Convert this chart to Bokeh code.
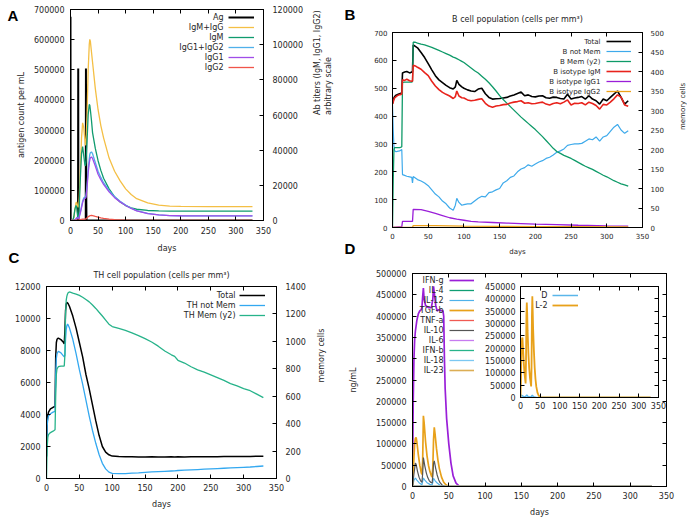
import math
from bokeh.plotting import figure
from bokeh.models import (Range1d, LinearAxis, FixedTicker, NumeralTickFormatter,
                          Legend, LegendItem, Label, Title, Div)
from bokeh.layouts import row, column
from bokeh.embed import file_html
from bokeh.resources import INLINE

FONT = "DejaVu Sans"
TXT = "#262626"

# ---------------- data ----------------
day_ticks = [0, 50, 100, 150, 200, 250, 300, 350]

# Panel A
a_left_ticks = [0, 100000, 200000, 300000, 400000, 500000, 600000, 700000]
a_right_ticks = [0, 20000, 40000, 60000, 80000, 100000, 120000]
ag_days = [0, 0.33, 13.67, 14, 14.33, 27.67, 28, 28.33, 28.67, 29, 330]
ag_count = [676000, 0, 0, 504000, 0, 0, 504000, 250000, 60000, 0, 0]
ab_days = [0, 4, 6, 8, 10, 11, 12, 13, 14, 15,
           16, 18, 20, 22, 24, 26, 27, 28, 30, 32,
           34, 35, 36, 38, 40, 45, 50, 55, 60, 70,
           80, 90, 100, 110, 120, 140, 160, 180, 200, 250,
           300, 330]
igm_igg = [0, 0, 1500, 6000, 10000, 10500, 9500, 8000, 7500, 9000,
           14000, 30000, 47000, 55500, 53000, 46000, 43000, 43000, 60000, 85000,
           100000, 103000, 102000, 96000, 90000, 75000, 63000, 54000, 47000, 35500,
           28000, 22500, 18000, 14800, 12400, 10000, 8800, 8200, 8000, 7900,
           7900, 7900]
igm = [0, 0, 2000, 6500, 8500, 8000, 5000, 2500, 1500, 3000,
       9000, 25000, 38000, 42000, 37000, 32000, 31000, 33000, 45000, 60000,
       66000, 65500, 63000, 57000, 50000, 41000, 34000, 28500, 24000, 18000,
       13500, 10500, 8500, 7200, 6400, 5700, 5450, 5350, 5300, 5300,
       5300, 5300]
igg1_igg2 = [0, 0, 0, 200, 1000, 1500, 1800, 1500, 1200, 1500,
             2500, 5000, 8000, 11000, 12800, 13300, 13500, 14000, 20000, 29000,
             35000, 37500, 38500, 39000, 38000, 33000, 28000, 24500, 21500, 17000,
             13500, 11000, 8800, 7000, 5600, 4000, 3200, 2800, 2700, 2600,
             2600, 2600]
igg1 = [0, 0, 0, 150, 800, 1300, 1600, 1300, 1000, 1300,
        2200, 4500, 7300, 10200, 12000, 12500, 12700, 13000, 18500, 27000,
        32500, 34500, 35700, 36100, 35300, 31000, 26300, 23200, 20500, 16300,
        13000, 10600, 8550, 6850, 5500, 3950, 3180, 2790, 2690, 2600,
        2600, 2600]
igg2 = [0, 0, 0, 0, 100, 150, 200, 200, 200, 250,
        300, 500, 700, 800, 800, 800, 800, 900, 1500, 2100,
        2500, 2700, 2800, 2900, 2750, 2300, 1900, 1500, 1200, 800,
        500, 300, 200, 100, 50, 0, 0, 0, 0, 0,
        0, 0]

# Panel B
b_left_ticks = [0, 100, 200, 300, 400, 500, 600, 700]
b_right_ticks = [0, 50, 100, 150, 200, 250, 300, 350, 400, 450, 500]
b_days = [0, 1, 2, 3, 5, 8, 10, 12, 13, 14,
          17, 20, 24, 27, 28, 29, 32, 35, 40, 45,
          50, 55, 60, 65, 70, 75, 80, 85, 88, 90,
          93, 97, 100, 105, 110, 115, 120, 125, 130, 135,
          140, 145, 150, 155, 160, 165, 170, 175, 180, 185,
          190, 195, 200, 205, 210, 215, 220, 225, 230, 235,
          240, 245, 250, 255, 260, 265, 270, 275, 280, 285,
          290, 295, 300, 305, 310, 315, 320, 325, 330]
b_total = [445, 455, 465, 470, 475, 478, 480, 482, 485, 555,
           558, 560, 555, 558, 560, 655, 650, 645, 628, 610,
           588, 566, 545, 530, 520, 510, 502, 497, 505, 528,
           514, 505, 500, 494, 490, 488, 497, 500, 480, 467,
           461, 462, 463, 465, 467, 472, 476, 481, 486, 473,
           476, 470, 469, 472, 473, 466, 464, 468, 467, 463,
           461, 478, 461, 465, 467, 470, 461, 473, 461, 455,
           443, 461, 455, 467, 479, 490, 467, 443, 455]
b_not_mem = [440, 350, 290, 275, 272, 274, 275, 278, 280, 190,
             187, 184, 182, 180, 160, 183, 178, 172, 167, 160,
             150, 135, 120, 110, 95, 85, 70, 62, 80, 105,
             90, 80, 82, 85, 85, 95, 105, 112, 110, 125,
             128, 135, 140, 160, 168, 180, 185, 200, 210, 215,
             225, 220, 228, 235, 240, 248, 252, 260, 270, 275,
             282, 295, 298, 300, 300, 302, 310, 318, 315, 325,
             310, 325, 330, 345, 360, 370, 350, 338, 347]
b_mem = [0, 120, 200, 205, 205, 205, 205, 206, 207, 372,
         373, 373, 373, 373, 374, 475, 475, 473, 470, 468,
         465, 462, 458, 454, 450, 446, 442, 437, 435, 433,
         430, 426, 423, 416, 409, 402, 396, 388, 380, 371,
         361, 350, 338, 328, 319, 310, 301, 292, 283, 275,
         267, 259, 251, 242, 233, 223, 213, 203, 195, 190,
         185, 181, 177, 172, 167, 162, 157, 153, 149, 144,
         139, 134, 130, 125, 120, 116, 112, 109, 106]
b_iso_igm = [443, 450, 460, 465, 470, 475, 477, 478, 480, 530,
             528, 532, 527, 525, 526, 582, 580, 575, 568, 556,
             545, 525, 508, 495, 485, 478, 472, 463, 470, 490,
             472, 466, 465, 458, 455, 457, 460, 462, 446, 436,
             432, 436, 438, 441, 442, 447, 450, 452, 455, 446,
             448, 444, 445, 448, 450, 443, 440, 445, 448, 444,
             450, 458, 440, 446, 445, 448, 440, 450, 445, 438,
             425, 442, 440, 450, 462, 476, 468, 440, 435]
b_igg1_days = [0, 13, 14, 28, 29, 40, 50, 60, 70, 80, 90, 100, 110, 120,
               140, 160, 180, 200, 230, 260, 300, 330]
b_iso_igg1 = [0, 3, 22, 22, 65, 64, 58, 51, 43, 35, 30, 26, 22, 20,
              18, 16, 14, 12, 10, 8, 6, 5]
b_igg2_days = [0, 28, 29, 60, 100, 150, 200, 250, 330]
b_iso_igg2 = [0, 0, 7, 7, 5, 4, 3, 3, 2]

# Panel C
c_left_ticks = [0, 2000, 4000, 6000, 8000, 10000, 12000]
c_right_ticks = [0, 200, 400, 600, 800, 1000, 1200, 1400]
c_days = [0, 1, 2, 3, 6, 10, 13, 14, 15, 16,
          18, 22, 25, 27, 28, 29, 30, 31, 32, 33,
          35, 40, 45, 50, 55, 60, 65, 70, 75, 80,
          85, 90, 95, 100, 110, 120, 130, 140, 150, 160,
          170, 180, 190, 195, 200, 210, 220, 230, 240, 250,
          260, 270, 280, 290, 300, 310, 320, 330]
th_total = [1380, 3500, 3950, 4150, 4350, 4450, 4500, 7600, 8500, 8700,
            8780, 8680, 8550, 8420, 9200, 10500, 10900, 11000, 10980, 10920,
            10750, 10150, 9400, 8500, 7600, 6500, 5600, 4600, 3600, 2700,
            2000, 1650, 1480, 1400, 1370, 1360, 1355, 1350, 1350, 1355,
            1350, 1350, 1355, 1350, 1355, 1350, 1355, 1360, 1360, 1365,
            1365, 1370, 1370, 1375, 1375, 1380, 1385, 1390]
th_not_mem = [1380, 3300, 3700, 3900, 4050, 4150, 4200, 6500, 7500, 7800,
              7950, 7850, 7700, 7600, 7700, 8700, 9300, 9550, 9650, 9600,
              9400, 8700, 7800, 6800, 5900, 4900, 3900, 3000, 2200, 1500,
              950, 600, 400, 320, 300, 310, 330, 350, 380, 410,
              430, 450, 470, 480, 500, 520, 540, 560, 580, 600,
              620, 640, 660, 680, 700, 720, 750, 780]
th_mem = [0, 230, 300, 320, 335, 345, 355, 600, 760, 800,
          815, 820, 820, 820, 900, 1200, 1300, 1330, 1345, 1355,
          1360, 1352, 1345, 1335, 1322, 1305, 1288, 1265, 1240, 1212,
          1185, 1155, 1125, 1108, 1095, 1080, 1062, 1042, 1020, 995,
          965, 930, 902, 890, 862, 842, 815, 792, 775, 755,
          735, 715, 692, 675, 655, 640, 615, 590]

# Panel D
d_ticks = [0, 50000, 100000, 150000, 200000, 250000, 300000, 350000, 400000, 450000, 500000]
ifng_days = [0, 1, 2, 3, 4, 6, 8, 10, 12, 13,
             14, 15, 16, 18, 22, 26, 28, 29, 30, 32,
             34, 36, 40, 42, 43, 44, 45, 47, 50, 53,
             56, 60, 65, 330]
ifng = [0, 200000, 300000, 345000, 365000, 390000, 405000, 412000, 415000, 420000,
        445000, 466000, 440000, 425000, 420000, 420000, 440000, 470000, 455000, 425000,
        412000, 415000, 413000, 412000, 400000, 300000, 230000, 160000, 100000, 55000,
        25000, 8000, 0, 0]
tgfb_days = [0, 1, 2, 3, 4, 5, 6, 8, 10, 12,
             13, 14, 15, 16, 18, 20, 22, 24, 26, 27,
             28, 29, 30, 31, 33, 35, 37, 40, 43, 46,
             50, 330]
tgfb = [0, 30000, 70000, 100000, 113000, 115000, 105000, 75000, 50000, 33000,
        28000, 60000, 166000, 150000, 105000, 72000, 50000, 35000, 25000, 22000,
        45000, 110000, 139000, 125000, 90000, 62000, 42000, 22000, 10000, 4000,
        0, 0]
il10_days = [0, 2, 4, 5, 7, 9, 11, 13, 14, 15,
             17, 19, 21, 23, 25, 27, 28, 29, 30, 32,
             34, 36, 38, 41, 45, 330]
il10 = [0, 30000, 55000, 52000, 35000, 22000, 14000, 10000, 30000, 68000,
        48000, 32000, 21000, 14000, 10000, 8000, 25000, 55000, 60000, 42000,
        27000, 16000, 9000, 3000, 0, 0]
il12_days = [0, 2, 4, 6, 9, 13, 14, 15, 17, 20, 24, 27, 28, 29, 31, 34, 38, 42, 330]
il12 = [0, 15000, 20000, 15000, 9000, 4000, 12000, 20000, 15000, 9000,
        5000, 3000, 10000, 19000, 14000, 8000, 3000, 0, 0]
flat_days = [0, 330]
il4 = [0, 0]
tnfa = [0, 0]
il6 = [0, 0]
ifnb = [0, 0]
il18 = [0, 0]
il23 = [0, 0]

# Inset of panel D
inset_ticks = [0, 50000, 100000, 150000, 200000, 250000, 300000, 350000, 400000, 450000]
il2_days = [0, 1, 2, 3, 4, 5, 6, 8, 10, 12,
            13, 14, 15, 16, 17, 18, 20, 22, 24, 27,
            28, 29, 30, 31, 32, 34, 36, 38, 40, 43,
            46, 50, 55, 330]
il2 = [0, 60000, 150000, 210000, 240000, 243000, 210000, 150000, 100000, 70000,
       57000, 150000, 330000, 385000, 340000, 270000, 180000, 120000, 80000, 45000,
       120000, 330000, 410000, 350000, 280000, 190000, 120000, 75000, 45000, 20000,
       8000, 2000, 0, 0]
dsig_days = [0, 2, 4, 7, 12, 14, 16, 19, 26, 28, 30, 33, 40, 330]
dsig = [0, 10000, 8000, 4000, 2000, 6000, 10000, 4000, 1000, 5000, 9000, 3000, 0, 0]


# ---------------- helpers ----------------
def style_axis(ax, fs, lab_so=5, ax_so=8):
    ax.major_tick_in = 4
    ax.major_tick_out = 0
    ax.minor_tick_in = 0
    ax.minor_tick_out = 0
    ax.axis_line_color = "black"
    ax.major_tick_line_color = "black"
    ax.major_label_text_font = FONT
    ax.major_label_text_font_size = fs
    ax.major_label_text_color = TXT
    ax.major_label_standoff = lab_so
    ax.axis_label_text_font = FONT
    ax.axis_label_text_font_size = fs
    ax.axis_label_text_font_style = "normal"
    ax.axis_label_text_color = TXT
    ax.axis_label_standoff = ax_so


def mirror(p, side, ticks, range_name="default"):
    if side in ("above", "below"):
        ax = LinearAxis(ticker=FixedTicker(ticks=ticks))
    else:
        ax = LinearAxis(ticker=FixedTicker(ticks=ticks), y_range_name=range_name)
    style_axis(ax, "8px", 0, 0)
    ax.major_label_overrides = {t: "" for t in ticks}
    ax.major_label_text_font_size = "1px"
    p.add_layout(ax, side)


def make_panel(w, h, ml, mr, mt, mb, ymax, yticks, fs, ylabel=None,
               lso=5, lax=8, xso=5, xax=6, xlabel="days"):
    p = figure(width=w, height=h, x_range=Range1d(0, 350), y_range=Range1d(0, ymax),
               output_backend="svg", toolbar_location=None, frame_align=False,
               min_border_left=ml, min_border_right=mr,
               min_border_top=mt, min_border_bottom=mb)
    p.xgrid.visible = False
    p.ygrid.visible = False
    p.outline_line_color = "black"
    p.background_fill_color = "white"
    p.border_fill_color = "white"
    p.xaxis.ticker = FixedTicker(ticks=day_ticks)
    p.yaxis.ticker = FixedTicker(ticks=yticks)
    p.yaxis.formatter = NumeralTickFormatter(format="0")
    if xlabel:
        p.xaxis.axis_label = xlabel
    if ylabel:
        p.yaxis.axis_label = ylabel
    style_axis(p.xaxis[0], fs, xso, xax)
    style_axis(p.yaxis[0], fs, lso, lax)
    return p


def add_y2(p, ymax, ticks, fs, label=None, lso=8, lax=10):
    p.extra_y_ranges = {"y2": Range1d(0, ymax)}
    ax = LinearAxis(y_range_name="y2", ticker=FixedTicker(ticks=ticks),
                    formatter=NumeralTickFormatter(format="0"))
    if label:
        ax.axis_label = label
    style_axis(ax, fs, lso, lax)
    try:
        ax.axis_label_orientation = math.pi / 2
    except Exception:
        pass
    p.add_layout(ax, "right")
    return ax


def add_legend(p, items, frame_h, top, vx, gw, gap, fs="8px"):
    """Line samples through a Legend; the texts right-aligned before them."""
    n = len(items)
    leg = Legend(items=[LegendItem(label=" ", renderers=[r]) for _, r in items],
                 location=(vx, frame_h - top - 10 * n), padding=0, margin=0, spacing=0,
                 glyph_width=gw, glyph_height=10, label_height=10, label_width=1,
                 border_line_alpha=0, background_fill_alpha=0,
                 label_text_font_size="1px")
    p.add_layout(leg)
    for i, (name, _) in enumerate(items):
        p.add_layout(Label(x=vx - gap, y=frame_h - top - 5 - 10 * i,
                           x_units="screen", y_units="screen", text=name,
                           text_font=FONT, text_font_size=fs, text_color=TXT,
                           text_align="right", text_baseline="middle"))


def letter_div(text, mt, ml, mb=0):
    d = Div(text=text, width=20, height=20, margin=(mt, 0, mb, ml),
            styles={"font-family": "Liberation Sans", "font-weight": "bold",
                    "font-size": "15px", "color": "black", "text-align": "center",
                    "line-height": "20px"})
    return d


# ---------------- Panel A ----------------
pA = make_panel(345, 255, 70, 82, 9, 35, 700000, a_left_ticks, "8px",
                ylabel="antigen count per mL", lso=6, lax=5, xso=6, xax=7)
add_y2(pA, 120000, a_right_ticks, "8px",
       label="Ab titers (IgM, IgG1, IgG2)\narbitrary scale", lso=9, lax=17)
mirror(pA, "above", day_ticks)
rA = [
    ("Ag", pA.line(ag_days, ag_count, line_color="black", line_width=2)),
    ("IgM+IgG", pA.line(ab_days, igm_igg, line_color="#f4bf45", line_width=1.3, y_range_name="y2")),
    ("IgM", pA.line(ab_days, igm, line_color="#0f9b6e", line_width=1.3, y_range_name="y2")),
    ("IgG1+IgG2", pA.line(ab_days, igg1_igg2, line_color="#4fb0ea", line_width=1.3, y_range_name="y2")),
    ("IgG1", pA.line(ab_days, igg1, line_color="#a04de8", line_width=1.3, y_range_name="y2")),
    ("IgG2", pA.line(ab_days, igg2, line_color="#f0554a", line_width=1.3, y_range_name="y2")),
]
add_legend(pA, rA, 211, 3, 158, 26, 5)

# ---------------- Panel B ----------------
pB = make_panel(355, 260, 47, 58, 32, 33, 700, b_left_ticks, "7px", lso=5)
add_y2(pB, 500, b_right_ticks, "7px", label="memory cells", lso=8, lax=16)
mirror(pB, "above", day_ticks)
pB.add_layout(Title(text="B cell population (cells per mm³)", align="center",
                    text_font=FONT, text_font_size="8px", text_font_style="normal",
                    text_color=TXT, standoff=17), "above")
rB = [
    ("Total", pB.line(b_days, b_total, line_color="black", line_width=1.6)),
    ("B not Mem", pB.line(b_days, b_not_mem, line_color="#3eaaeb", line_width=1.2)),
    ("B Mem (y2)", pB.line(b_days, b_mem, line_color="#0e9a68", line_width=1.3, y_range_name="y2")),
    ("B isotype IgM", pB.line(b_days, b_iso_igm, line_color="#e8231c", line_width=1.6)),
    ("B isotype IgG1", pB.line(b_igg1_days, b_iso_igg1, line_color="#9a1ed8", line_width=1.3)),
    ("B isotype IgG2", pB.line(b_igg2_days, b_iso_igg2, line_color="#eda21b", line_width=1.3)),
]
add_legend(pB, rB, 195, 4, 214, 25, 6, fs="7px")

# ---------------- Panel C ----------------
pC = make_panel(345, 264, 46, 69, 31, 41, 12000, c_left_ticks, "8px", lso=6)
add_y2(pC, 1400, c_right_ticks, "8px", label="memory cells", lso=9, lax=13)
mirror(pC, "above", day_ticks)
pC.add_layout(Title(text="TH cell population (cells per mm³)", align="center",
                    text_font=FONT, text_font_size="8px", text_font_style="normal",
                    text_color=TXT, standoff=13), "above")
rC = [
    ("Total", pC.line(c_days, th_total, line_color="black", line_width=1.5)),
    ("TH not Mem", pC.line(c_days, th_not_mem, line_color="#33a8f0", line_width=1.3)),
    ("TH Mem (y2)", pC.line(c_days, th_mem, line_color="#27b38a", line_width=1.3, y_range_name="y2")),
]
add_legend(pC, rC, 192, 4, 193, 26, 4)

# ---------------- Panel D ----------------
pD = make_panel(355, 259, 56, 34, 13, 32, 500000, d_ticks, "8px",
                ylabel="ng/mL", lso=6, lax=15)
mirror(pD, "above", day_ticks)
mirror(pD, "right", d_ticks)
rD = [
    ("IFN-g", pD.line(ifng_days, ifng, line_color="#9a1fd8", line_width=1.7)),
    ("IL-4", pD.line(flat_days, il4, line_color="#0f9e74", line_width=1.3)),
    ("IL-12", pD.line(il12_days, il12, line_color="#4fb2ea", line_width=1.2)),
    ("TGF-b", pD.line(tgfb_days, tgfb, line_color="#e8a11a", line_width=1.7)),
    ("TNF-a", pD.line(flat_days, tnfa, line_color="#f05a52", line_width=1.3)),
    ("IL-10", pD.line(il10_days, il10, line_color="#555555", line_width=1.2)),
    ("IL-6", pD.line(flat_days, il6, line_color="#c77cf0", line_width=1.3)),
    ("IFN-b", pD.line(flat_days, ifnb, line_color="#28b48a", line_width=1.3)),
    ("IL-18", pD.line(flat_days, il18, line_color="#7cc8f2", line_width=1.3)),
    ("IL-23", pD.line(flat_days, il23, line_color="#dcae55", line_width=1.6)),
]
add_legend(pD, rD, 214, 3, 37, 25, 6)

# ---------------- Inset ----------------
pI = make_panel(191, 133, 44, 9, 5, 17, 450000, inset_ticks, "8px",
                lso=5, xso=4, xlabel=None)
pI.border_fill_alpha = 0
mirror(pI, "above", day_ticks)
mirror(pI, "right", inset_ticks)
rI = [
    ("D", pI.line(dsig_days, dsig, line_color="#5ab6ea", line_width=1.5)),
    ("L-2", pI.line(il2_days, il2, line_color="#e8a11a", line_width=1.8)),
]
add_legend(pI, rI, 111, 4, 32, 26, 5)
pI.margin = (-238, 0, 0, 131)

# ---------------- panel letters ----------------
dA = letter_div("A", -513, 3)
dC = letter_div("C", 222, 4, 251)
dB = letter_div("B", -409, -5)
dDl = letter_div("D", 214, -5, 260)

left = column(pA, pC, dA, dC)
right = column(pB, pD, pI, dB, dDl)
root = row(left, right)

open("out.html", "w").write(file_html(root, INLINE))
